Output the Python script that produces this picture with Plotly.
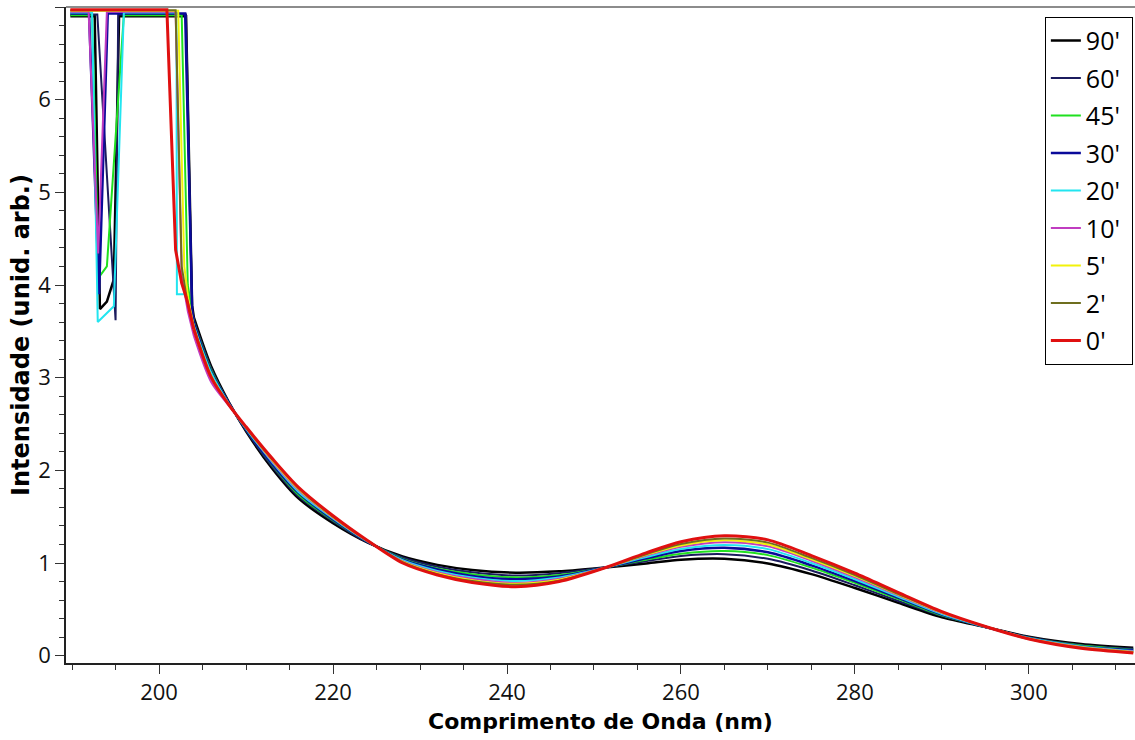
import plotly.graph_objects as go

# Wavelength grid (nm) for the smooth part of every scan
BODY_NM = [204, 206, 208, 210, 213, 216, 220, 224, 228, 232, 236, 241, 246,
           251, 256, 260, 265, 270, 275, 280, 285, 290, 295, 300, 306, 312]

# Absorbance on BODY_NM for each irradiation time
body_90 = [3.65, 3.12, 2.74, 2.42, 2.02, 1.70, 1.43, 1.22, 1.07, 0.98, 0.925, 0.895, 0.91,
           0.95, 0.995, 1.035, 1.045, 0.995, 0.88, 0.73, 0.57, 0.415, 0.31, 0.205, 0.125, 0.085]
body_60 = [3.62, 3.10, 2.73, 2.43, 2.04, 1.72, 1.45, 1.22, 1.06, 0.96, 0.90, 0.865, 0.89,
           0.95, 1.02, 1.075, 1.095, 1.045, 0.92, 0.76, 0.59, 0.43, 0.31, 0.20, 0.115, 0.075]
body_45 = [3.60, 3.08, 2.73, 2.44, 2.06, 1.74, 1.46, 1.23, 1.045, 0.94, 0.88, 0.845, 0.87,
           0.945, 1.035, 1.10, 1.13, 1.085, 0.95, 0.785, 0.61, 0.435, 0.31, 0.195, 0.11, 0.065]
body_30 = [3.59, 3.06, 2.73, 2.44, 2.07, 1.76, 1.47, 1.23, 1.035, 0.93, 0.86, 0.825, 0.855,
           0.945, 1.05, 1.13, 1.165, 1.115, 0.975, 0.805, 0.625, 0.445, 0.31, 0.19, 0.10, 0.06]
body_20 = [3.56, 3.05, 2.72, 2.45, 2.09, 1.77, 1.48, 1.23, 1.03, 0.915, 0.845, 0.805, 0.845,
           0.945, 1.065, 1.15, 1.195, 1.15, 1.00, 0.825, 0.635, 0.45, 0.31, 0.19, 0.10, 0.05]
body_10 = [3.45, 2.95, 2.70, 2.46, 2.10, 1.79, 1.49, 1.235, 1.02, 0.90, 0.83, 0.785, 0.83,
           0.945, 1.08, 1.175, 1.225, 1.18, 1.025, 0.845, 0.65, 0.46, 0.315, 0.185, 0.095, 0.045]
body_5 = [3.55, 3.02, 2.715, 2.46, 2.11, 1.80, 1.495, 1.235, 1.015, 0.89, 0.815, 0.775, 0.82,
          0.94, 1.09, 1.19, 1.245, 1.20, 1.04, 0.86, 0.66, 0.465, 0.315, 0.185, 0.09, 0.04]
body_2 = [3.54, 3.01, 2.71, 2.46, 2.12, 1.81, 1.50, 1.24, 1.01, 0.88, 0.805, 0.765, 0.81,
          0.94, 1.095, 1.205, 1.265, 1.22, 1.055, 0.87, 0.665, 0.47, 0.315, 0.18, 0.085, 0.035]
body_0 = [3.52, 3.00, 2.71, 2.47, 2.13, 1.82, 1.51, 1.24, 1.00, 0.87, 0.79, 0.745, 0.80,
          0.94, 1.11, 1.23, 1.295, 1.25, 1.08, 0.89, 0.68, 0.475, 0.315, 0.18, 0.08, 0.03]

# Saturated / noisy short-wavelength section of each scan
head_nm_90 = [189.8, 192.6, 193.2, 194.0, 194.8, 195.4, 203.1, 203.8]
head_y_90 = [6.90, 6.90, 3.74, 3.82, 4.06, 6.90, 6.90, 3.78]
head_nm_60 = [189.8, 192.9, 195.0, 195.3, 203.1, 203.8]
head_y_60 = [6.92, 6.92, 3.62, 6.92, 6.92, 3.73]
head_nm_45 = [189.8, 192.3, 193.05, 194.0, 195.95, 202.6, 203.3, 203.8]
head_y_45 = [6.91, 6.91, 4.08, 4.20, 6.91, 6.91, 4.00, 3.72]
head_nm_30 = [189.8, 191.95, 193.1, 194.1, 203.0, 203.8]
head_y_30 = [6.93, 6.93, 3.90, 6.93, 6.93, 3.73]
head_nm_20 = [189.8, 192.3, 192.95, 194.8, 195.95, 202.0, 202.05, 203.0]
head_y_20 = [6.94, 6.94, 3.60, 3.77, 6.94, 6.94, 3.90, 3.90]
head_nm_10 = [189.8, 191.9, 193.0, 194.0, 201.9, 202.6, 203.3]
head_y_10 = [6.95, 6.95, 4.34, 6.95, 6.95, 4.10, 3.72]
head_nm_5 = [189.8, 202.2, 202.9, 203.4]
head_y_5 = [6.96, 6.96, 4.20, 3.82]
head_nm_2 = [189.8, 201.9, 202.6, 203.2]
head_y_2 = [6.965, 6.965, 4.20, 3.85]
head_nm_0 = [189.8, 200.9, 201.9, 202.6, 203.2]
head_y_0 = [6.97, 6.97, 4.38, 4.02, 3.84]

LABELS = ["90'", "60'", "45'", "30'", "20'", "10'", "5'", "2'", "0'"]
COLORS = ["#000000", "#1b1b5e", "#1fe01f", "#0a0a9a", "#22e5f0",
          "#c03cc0", "#f2f20a", "#6e6e1e", "#e01010"]
WIDTHS = [2.5, 2, 2, 2.5, 2, 2, 2, 2, 3]

heads_nm = [head_nm_90, head_nm_60, head_nm_45, head_nm_30, head_nm_20,
            head_nm_10, head_nm_5, head_nm_2, head_nm_0]
heads_y = [head_y_90, head_y_60, head_y_45, head_y_30, head_y_20,
           head_y_10, head_y_5, head_y_2, head_y_0]
bodies = [body_90, body_60, body_45, body_30, body_20,
          body_10, body_5, body_2, body_0]

PAD = "\u00a0"  # a little room after each legend label

fig = go.Figure()
for lab, col, w, hx, hy, by in zip(LABELS, COLORS, WIDTHS, heads_nm, heads_y, bodies):
    fig.add_trace(go.Scatter(
        x=hx + [BODY_NM[0]], y=hy + [by[0]], mode="lines",
        line=dict(color=col, width=w), name=lab + PAD, legendgroup=lab, showlegend=True,
    ))
    fig.add_trace(go.Scatter(
        x=BODY_NM, y=by, mode="lines",
        line=dict(color=col, width=w, shape="spline", smoothing=0.8),
        name=lab, legendgroup=lab, showlegend=False,
    ))

tick_font = dict(family="Open Sans", size=22, color="#111")
xtitle_font = dict(family="DejaVu Sans", size=22, color="#000", weight="bold")
ytitle_font = dict(family="DejaVu Sans", size=24, color="#000", weight="bold")

fig.update_layout(
    width=1135, height=740,
    margin=dict(l=66, r=0, t=7, b=77),
    paper_bgcolor="white", plot_bgcolor="white",
    xaxis=dict(
        range=[189.3, 312.2], showgrid=False, zeroline=False,
        showline=True, linecolor="#222", linewidth=1.5,
        ticks="outside", ticklen=9, tickwidth=1.2, tickcolor="#333",
        tick0=0, dtick=20, tickfont=tick_font,
        minor=dict(dtick=5, tick0=0, ticks="outside", ticklen=5, tickcolor="#333", tickwidth=1.2),
        title=dict(text="Comprimento de Onda (nm)", font=xtitle_font, standoff=8),
    ),
    yaxis=dict(
        range=[-0.079, 7.0], showgrid=False, zeroline=False,
        showline=True, linecolor="#222", linewidth=1.5,
        ticks="outside", ticklen=9, tickwidth=1.2, tickcolor="#333",
        tick0=0, dtick=1, tickfont=tick_font,
        minor=dict(dtick=0.2, tick0=0, ticks="outside", ticklen=5, tickcolor="#333", tickwidth=1.2),
        title=dict(text="Intensidade (unid. arb.)", font=ytitle_font, standoff=2),
    ),
    legend=dict(
        x=0.998, xanchor="right", y=0.985, yanchor="top",
        bgcolor="white", bordercolor="#000", borderwidth=1,
        font=dict(family="Open Sans", size=25, color="#000"),
        traceorder="grouped", tracegroupgap=2,
    ),
    shapes=[dict(type="line", xref="paper", yref="paper", x0=0, x1=1, y0=1, y1=1,
                 line=dict(color="#8c8c8c", width=2))],
    showlegend=True,
)

fig.write_html("out.html")
